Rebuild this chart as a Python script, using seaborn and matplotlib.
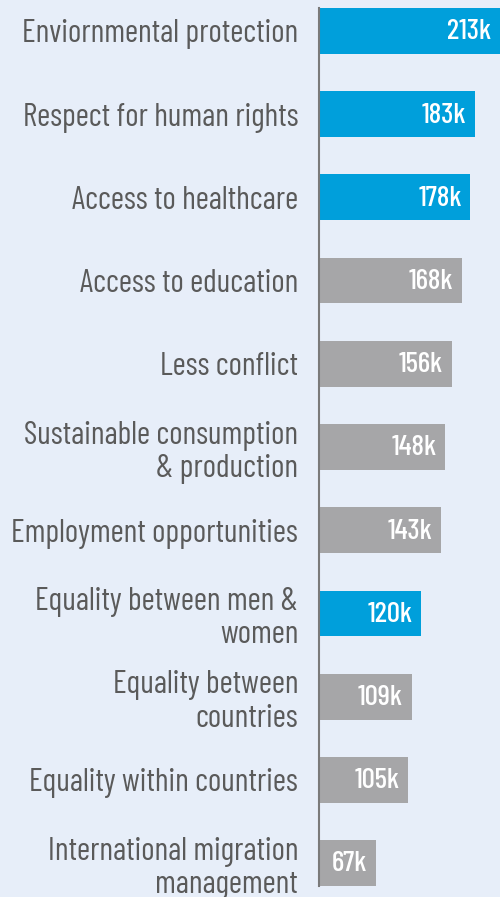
import pandas as pd
import seaborn as sns
import matplotlib.pyplot as plt

categories = ['Enviornmental protection', 'Respect for human rights', 'Access to healthcare',
              'Access to education', 'Less conflict', 'Sustainable consumption\n& production',
              'Employment opportunities', 'Equality between men &\nwomen', 'Equality between\ncountries',
              'Equality within countries', 'International migration\nmanagement']
values = [213, 183, 178, 168, 156, 148, 143, 120, 109, 105, 67]
highlight = ['yes', 'yes', 'yes', 'no', 'no', 'no', 'no', 'yes', 'no', 'no', 'no']
value_labels = ['213k', '183k', '178k', '168k', '156k', '148k', '143k', '120k', '109k', '105k', '67k']

bg = '#e7eef9'
sns.set_style('white')
plt.rcParams['font.family'] = ['Barlow Condensed', 'DejaVu Sans']

df = pd.DataFrame({'cat': categories, 'val': values, 'hl': highlight})

fig = plt.figure(figsize=(5, 8.97), dpi=100)
fig.patch.set_facecolor(bg)
ax = fig.add_subplot(111)
ax.set_facecolor(bg)
fig.subplots_adjust(left=0.638, right=1.0, top=0.991, bottom=0.0123)

sns.barplot(data=df, x='val', y='cat', hue='hl', palette={'yes': '#009fdb', 'no': '#a6a6a8'},
            dodge=False, width=0.55, legend=False, ax=ax, saturation=1, linewidth=0)

for i, v in enumerate(values):
    ax.annotate(value_labels[i], xy=(v, i), xytext=(-6, -1), textcoords='offset points',
                ha='right', va='center', color='white', fontsize=21, fontweight='medium')

ax.set_xlim(0, 213)
ax.set_ylim(10.275, -0.275)
ax.set_xlabel('')
ax.set_ylabel('')
ax.set_xticks([0, 50, 100, 150, 200])
ax.set_xticklabels([])
ax.tick_params(axis='x', length=2, width=1, color='#9a9a9a', direction='out')
ax.tick_params(axis='y', length=0, pad=15, labelsize=23, labelcolor='#5a5a5a')
for lbl in ax.get_yticklabels():
    lbl.set_linespacing(1.15)
for s in ['top', 'right', 'bottom']:
    ax.spines[s].set_visible(False)
ax.spines['left'].set_color('#7a7a7a')
ax.spines['left'].set_linewidth(1.5)

fig.savefig('out.png', dpi=100, facecolor=bg)
